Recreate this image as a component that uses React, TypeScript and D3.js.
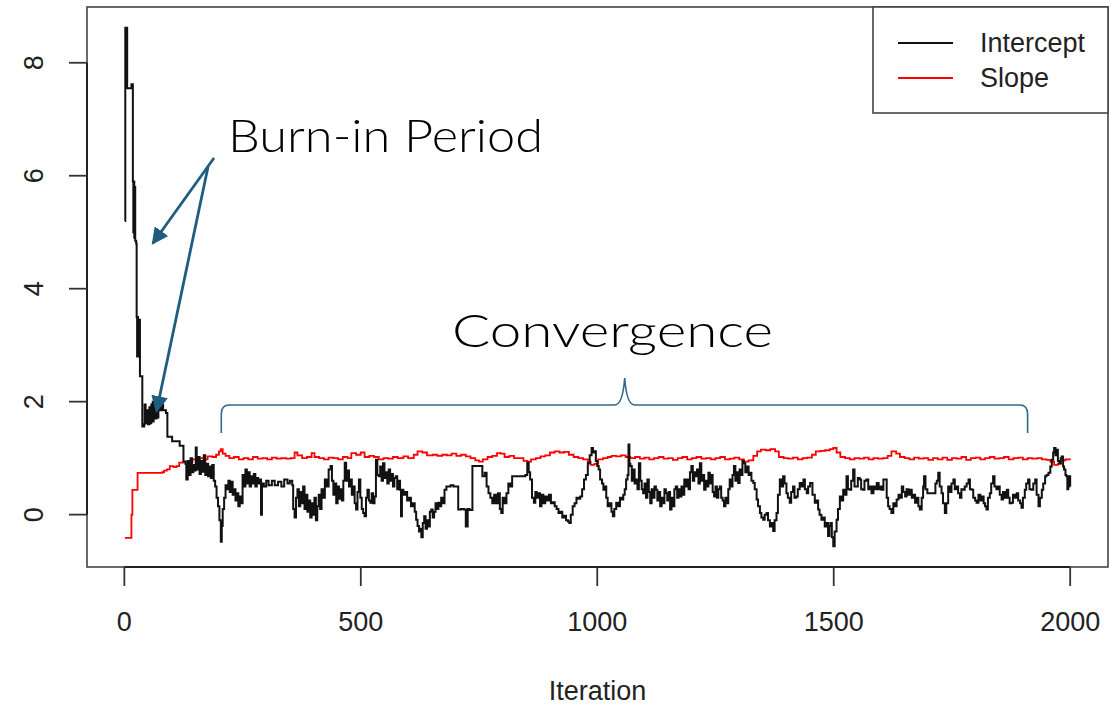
import React from "react";
import * as d3 from "d3";

const seriesNames = ["Intercept", "Slope"];
const seriesColors = ["#111111", "#ff0000"];
const xTicks = [0, 500, 1000, 1500, 2000];
const yTicks = [0, 2, 4, 6, 8];
const xLabel = "Iteration";
const burnInLabel = "Burn-in Period";
const convergenceLabel = "Convergence";

// [iteration, value]
const interceptTrace: [number, number][] = [
  [1,5.2],[2,8.62],[5,8.62],[6,7.55],[14,7.55],[15,7.62],[17,7.62],[18,5.9],[19,5.0],[20,5.9],[21,4.9],[22,5.8],[23,4.85],[25,4.8],[26,3.5],[27,2.8],[28,3.5],[29,2.8],[30,3.4],[31,2.8],[32,3.45],[33,2.45],[37,2.45],[38,1.56],[42,1.6],[43,1.95],[45,1.62],[48,1.85],[50,1.6],[53,1.9],[55,1.62],[57,1.95],[58,1.7],[60,2.0],[61,1.65],[62,1.98],[63,1.7],[64,1.95],[66,1.7],[68,2.0],[70,1.72],[72,1.9],[75,1.85],[78,1.95],[82,1.85],[88,1.8],[91,1.38],[100,1.38],[101,1.3],[116,1.3],[117,1.22],[124,1.22],[125,0.94],[129,0.9],[131,0.62],[134,0.95],[137,0.7],[140,1.0],[143,0.75],[146,0.88],[149,0.78],[151,1.19],[153,0.8],[156,1.02],[159,0.72],[162,0.95],[165,0.76],[168,1.05],[171,0.7],[174,0.9],[177,0.68],[180,0.85],[183,0.65],[186,0.88],[189,0.6],[192,0.5],[195,0.3],[198,0.15],[201,-0.1],[204,-0.48],[206,-0.2],[208,0.1],[211,0.3],
  [214,0.52],[217,0.45],[220,0.6],[223,0.4],[226,0.58],[229,0.35],[232,0.45],[235,0.25],[238,0.38],[241,0.15],[244,0.32],[247,0.2],[250,0.7],[253,0.5],[256,0.8],[259,0.55],[262,0.75],[265,0.5],[268,0.68],[271,0.55],[274,0.72],[277,0.5],[280,0.65],[283,0.55],[286,0.62],[289,0.0],[291,0.55],[295,0.5],[300,0.6],[305,0.52],[312,0.6],[318,0.52],[325,0.58],[332,0.5],[338,0.62],[345,0.55],[350,0.6],[355,0.52],[357,0.1],[360,-0.05],[363,0.3],[366,0.45],[369,0.15],[372,0.4],[375,0.2],[378,0.5],[381,0.1],[384,0.35],[387,0.05],[390,0.25],[393,-0.05],[396,0.2],[399,0.0],[402,0.3],[405,-0.1],[408,0.15],[411,0.35],[414,0.1],[417,0.45],[420,0.3],[424,0.62],[428,0.5],[432,0.8],[436,0.86],[439,0.6],[442,0.35],[445,0.55],[448,0.2],[451,0.5],[454,0.28],[457,0.45],[460,0.25],[463,0.6],[466,0.92],[469,0.6],[472,0.78],[475,0.5],
  [478,0.62],[481,0.35],[484,0.5],[487,0.2],[490,0.09],[493,0.4],[496,0.62],[499,0.3],[502,0.1],[505,0.03],[508,-0.03],[511,0.3],[514,0.44],[517,0.25],[520,0.21],[523,0.38],[526,0.2],[529,0.32],[532,0.97],[535,0.7],[538,0.68],[541,0.85],[544,0.6],[547,0.91],[550,0.65],[553,0.75],[556,0.55],[559,0.8],[562,0.6],[565,0.72],[568,0.5],[571,0.65],[574,0.68],[577,0.45],[580,0.6],[583,0.44],[585,-0.03],[587,0.44],[590,0.35],[594,0.4],[598,0.25],[602,0.3],[606,0.15],[610,0.2],[614,0.05],[617,-0.09],[620,-0.2],[623,-0.3],[626,-0.25],[628,-0.4],[631,-0.15],[634,-0.03],[637,-0.25],[640,-0.1],[643,-0.21],[646,0.05],[649,0.09],[652,-0.05],[655,0.05],[658,0.2],[661,0.1],[664,0.21],[667,0.15],[670,0.3],[674,0.2],[677,0.44],[681,0.5],[685,0.5],[690,0.52],[696,0.5],[702,0.5],[706,0.09],[712,0.1],[718,0.09],[722,-0.21],[726,0.1],[730,0.08],[736,0.86],[745,0.86],[754,0.86],[757,0.68],[762,0.74],[766,0.5],[770,0.38],[774,0.3],[778,0.2],[782,0.35],[786,0.2],[790,0.38],[794,0.1],[797,0.03],[800,0.3],[804,0.2],[808,0.38],[812,0.55],[816,0.5],[820,0.68],[830,0.68],[840,0.68],[848,0.7],[852,0.92],[855,0.75],[858,0.62],[862,0.3],[866,0.21],[869,0.4],[872,0.3],[876,0.38],[879,0.15],[882,0.35],[886,0.2],[890,0.32],[894,0.25],[898,0.35],[902,0.2],[906,0.22],[910,0.15],[914,0.1],[918,0.03],[922,0.05],[926,-0.05],[930,-0.02],[934,-0.1],[938,-0.12],[941,-0.15],[944,0.0],[948,0.15],[952,0.2],[956,0.3],[960,0.28],[964,0.32],[968,0.45],[972,0.62],[976,0.7],[980,0.91],[984,1.05],[988,1.18],[991,1.1],[994,1.12],[997,0.95],[1000,0.86],[1003,0.8],[1006,0.62],[1010,0.55],[1013,0.44],[1016,0.5],[1019,0.3],[1022,0.15],[1026,0.2],[1030,0.05],[1033,-0.03],[1036,0.1],[1040,0.21],[1044,0.15],[1048,0.3],[1051,0.27],[1055,0.35],[1058,0.45],[1061,0.62],[1064,0.7],[1066,1.24],[1068,0.9],[1070,0.86],[1073,0.6],[1076,0.8],[1079,0.55],[1082,0.62],[1085,0.45],[1088,0.91],[1091,0.6],[1094,0.45],[1097,0.38],[1100,0.55],[1103,0.3],[1106,0.62],[1109,0.4],[1112,0.2],[1115,0.45],[1118,0.3],[1121,0.5],[1124,0.44],[1127,0.25],[1130,0.4],[1133,0.15],[1136,0.3],[1139,0.2],[1142,0.45],[1145,0.38],[1148,0.25],[1151,0.4],[1154,0.09],[1157,0.3],[1160,0.15],[1163,0.45],[1166,0.5],[1169,0.3],[1172,0.45],[1175,0.32],[1178,0.5],[1181,0.35],[1184,0.62],[1187,0.5],[1190,0.62],[1193,0.45],[1196,0.75],[1199,0.86],[1202,0.6],[1205,0.75],[1208,0.68],[1211,0.8],[1214,0.55],[1217,0.91],[1220,0.6],[1223,0.7],[1226,0.44],[1229,0.6],[1232,0.5],[1235,0.74],[1238,0.55],[1241,0.7],[1244,0.4],[1247,0.32],[1250,0.5],[1253,0.3],[1256,0.45],[1259,0.5],[1262,0.3],[1265,0.25],[1268,0.15],[1271,0.3],[1274,0.2],[1277,0.45],[1280,0.62],[1283,0.5],[1286,0.7],[1289,0.86],[1292,0.6],[1295,0.75],[1298,0.56],[1301,0.8],[1304,0.7],[1307,0.95],[1310,0.91],[1313,0.75],[1316,0.85],[1320,0.7],[1323,0.74],
  [1326,0.6],[1330,0.56],[1333,0.45],[1337,0.27],[1340,0.15],[1344,0.03],[1347,-0.05],[1351,-0.09],[1354,0.0],[1358,0.03],[1361,-0.1],[1365,-0.21],[1368,-0.15],[1372,-0.29],[1375,-0.1],[1379,0.03],[1382,0.35],[1386,0.62],[1389,0.5],[1393,0.68],[1396,0.55],[1400,0.38],[1403,0.3],[1407,0.21],[1410,0.4],[1414,0.5],[1417,0.3],[1421,0.32],[1424,0.45],[1428,0.56],[1432,0.5],[1436,0.62],[1439,0.45],[1443,0.38],[1446,0.5],[1450,0.56],[1455,0.35],[1460,0.21],[1464,0.25],[1467,0.09],[1470,0.0],[1474,-0.09],[1477,-0.05],[1481,-0.21],[1484,-0.15],[1488,-0.38],[1491,-0.2],[1493,-0.15],[1496,-0.4],[1499,-0.56],[1502,-0.3],[1506,-0.09],[1509,0.1],[1513,0.32],[1516,0.25],[1520,0.44],[1523,0.35],[1527,0.68],[1530,0.45],[1534,0.44],[1537,0.6],[1541,0.8],[1544,0.5],[1548,0.5],[1551,0.65],[1555,0.62],[1558,0.45],[1562,0.44],[1565,0.6],[1569,0.62],[1573,0.45],[1577,0.5],[1580,0.38],[1584,0.5],[1587,0.45],[1591,0.56],[1595,0.45],[1598,0.5],[1601,0.44],[1605,0.62],[1608,0.62],[1612,0.3],[1615,0.15],[1618,0.1],[1622,0.03],[1626,0.2],[1630,0.15],[1633,0.27],[1637,0.35],[1640,0.3],[1644,0.5],[1647,0.4],[1651,0.32],[1654,0.45],[1658,0.35],[1661,0.44],[1665,0.3],[1668,0.35],[1672,0.21],[1676,0.3],[1679,0.15],[1682,0.09],[1686,0.3],[1689,0.5],[1691,0.68],[1694,0.45],[1698,0.38],[1702,0.38],[1706,0.38],[1711,0.38],[1715,0.55],[1718,0.6],[1721,0.74],[1724,0.5],[1728,0.38],[1731,0.2],[1735,0.03],[1738,0.2],[1742,0.5],[1745,0.4],[1749,0.55],[1753,0.62],[1756,0.45],[1760,0.5],[1763,0.38],[1767,0.3],[1770,0.45],[1774,0.44],[1777,0.5],[1781,0.55],[1785,0.62],[1788,0.45],[1792,0.44],[1795,0.3],[1799,0.25],[1802,0.21],[1806,0.35],[1810,0.25],[1813,0.32],[1817,0.2],[1820,0.15],[1823,0.09],[1826,0.3],[1830,0.38],[1833,0.55],[1837,0.68],[1840,0.5],[1844,0.45],[1848,0.5],[1851,0.35],[1855,0.27],[1858,0.4],[1862,0.3],[1866,0.44],[1869,0.3],[1872,0.2],[1876,0.21],[1879,0.35],[1883,0.3],[1887,0.38],[1890,0.25],[1894,0.2],[1897,0.12],[1900,0.3],[1904,0.44],[1907,0.55],[1911,0.62],[1914,0.45],[1918,0.44],[1922,0.55],[1926,0.62],[1929,0.35],[1933,0.15],[1936,0.3],[1940,0.44],[1943,0.55],[1947,0.68],[1950,0.7],[1954,0.74],[1958,0.85],[1961,0.97],[1964,1.1],[1966,1.18],[1969,1.05],[1971,1.15],[1974,0.95],[1977,0.91],[1980,1.0],[1982,1.03],[1985,0.85],[1987,0.8],[1990,0.7],[1992,0.68],[1994,0.45],[1996,0.5],[1998,0.68],[2000,0.5],
];

const slopeTrace: [number, number][] = [
  [1,-0.41],[14,-0.41],[15,0.0],[17,0.44],[27,0.44],[28,0.74],[50,0.74],[80,0.75],[84,0.78],[90,0.8],[96,0.86],[104,0.84],[110,0.86],[116,0.92],[125,0.94],[135,0.93],[144,0.98],[152,0.96],[160,1.0],[168,0.98],[176,1.03],[186,1.02],[194,1.06],[200,1.12],[204,1.16],[208,1.08],[214,1.04],[222,1.0],[232,1.02],[242,0.98],[252,1.0],[262,0.98],[272,1.02],[282,0.99],[292,1.0],[302,0.98],[312,1.01],[322,0.99],[332,1.0],[342,0.99],[352,1.0],[360,1.1],[366,1.05],[376,1.0],[386,1.02],[396,1.09],[402,1.02],[412,1.0],[422,0.98],[432,1.01],[442,1.0],[452,0.98],[462,1.02],[472,1.0],[480,1.09],[490,1.06],[500,1.1],[508,1.02],[518,1.04],[528,1.02],[538,0.98],[548,1.0],[558,0.99],[568,1.02],[578,1.0],[590,1.03],[600,1.0],[612,1.06],[620,1.12],[630,1.1],[640,1.05],[652,1.06],[662,1.04],[672,1.06],[682,1.05],[692,1.08],[702,1.04],[712,1.06],[722,1.03],[732,1.0],[742,0.96],[750,0.94],[758,0.98],[768,1.02],[778,1.04],[788,1.09],[796,1.08],[804,1.02],[814,1.04],[824,1.0],[834,1.0],[844,0.95],[852,0.94],[860,0.98],[870,1.0],[880,1.03],[890,1.05],[900,1.1],[910,1.12],[920,1.1],[930,1.11],[940,1.06],[950,1.02],[960,1.0],[970,0.98],[980,0.94],[986,0.88],[994,0.9],[1002,0.98],[1012,1.0],[1022,1.02],[1030,1.04],[1040,1.03],[1050,1.05],[1060,1.02],[1070,1.0],[1080,1.02],[1090,0.99],[1100,1.01],[1110,0.98],[1120,1.0],[1130,1.02],[1140,0.99],[1150,1.0],[1160,0.97],[1170,1.0],[1180,1.02],[1190,0.98],[1200,1.0],[1210,1.02],[1220,0.99],[1230,1.0],[1240,0.98],[1250,1.0],[1260,1.02],[1270,0.98],[1280,0.99],[1290,1.01],[1300,0.98],[1310,0.94],[1320,0.96],[1330,1.04],[1338,1.12],[1346,1.15],[1356,1.14],[1366,1.16],[1376,1.12],[1384,1.02],[1394,1.0],[1404,0.99],[1414,1.01],[1424,0.98],[1434,1.0],[1444,1.01],[1454,1.06],[1462,1.12],[1472,1.13],[1482,1.14],[1492,1.16],[1499,1.18],[1506,1.1],[1514,1.02],[1524,1.0],[1534,0.98],[1544,1.0],[1554,0.99],[1564,1.01],[1574,0.98],[1584,1.0],[1594,0.99],[1604,1.0],[1614,1.04],[1622,1.12],[1632,1.08],[1640,1.02],[1650,1.0],[1660,0.98],[1670,1.01],[1680,0.99],[1690,1.0],[1700,0.97],[1710,1.0],[1720,0.98],[1730,1.01],[1740,0.97],[1750,1.0],[1760,0.99],[1770,1.02],[1780,0.97],[1790,1.0],[1800,1.01],[1810,0.98],[1820,1.0],[1830,1.02],[1840,0.99],[1850,1.0],[1860,1.02],[1870,0.98],[1880,1.0],[1890,1.01],[1900,0.98],[1910,1.0],[1920,0.99],[1930,1.0],[1940,0.98],[1950,0.97],[1958,0.94],[1966,0.88],[1974,0.9],[1980,0.96],[1990,0.98],[2000,0.97],
];

const W = 1119;
const H = 705;
const box = { left: 87, right: 1108, top: 7, bottom: 567 };

export default function App() {
  const allVals = [...interceptTrace, ...slopeTrace].map((d) => d[1]);
  const yMin = d3.min(allVals)!;
  const yMax = d3.max(allVals)!;
  const yPad = (yMax - yMin) * 0.04;
  const xPad = (2000 - 1) * 0.04;
  const x = d3.scaleLinear().domain([1 - xPad, 2000 + xPad]).range([box.left, box.right]);
  const y = d3.scaleLinear().domain([yMin - yPad, yMax + yPad]).range([box.bottom, box.top]);

  const line = d3
    .line<[number, number]>()
    .x((d) => x(d[0]))
    .y((d) => y(d[1]))
    .curve(d3.curveStepAfter);

  const tickFont = "'Liberation Sans', Arial, sans-serif";
  const annFont = "Lato, 'DejaVu Sans', sans-serif";
  const arrowColor = "#1f5c7e";
  const braceColor = "#2f6a8a";

  const braceY = 405;
  const braceL = x(205);
  const braceR = x(1910);
  const braceM = x(1058);
  const bracePath = `M ${braceL} ${braceY + 28} L ${braceL} ${braceY + 9} Q ${braceL} ${braceY} ${braceL + 8} ${braceY} L ${braceM - 10} ${braceY} Q ${braceM - 2} ${braceY} ${braceM} ${braceY - 27} Q ${braceM + 2} ${braceY} ${braceM + 10} ${braceY} L ${braceR - 8} ${braceY} Q ${braceR} ${braceY} ${braceR} ${braceY + 9} L ${braceR} ${braceY + 28}`;

  const arrowStart1: [number, number] = [214, 158];
  const arrowEnd1: [number, number] = [x(60), y(4.8)];
  const arrowStart2: [number, number] = [208, 167];
  const arrowEnd2: [number, number] = [x(68), y(1.83)];

  return (
    <div style={{ position: "fixed", left: 0, top: 0, width: W, height: H, background: "#fff" }}>
      <svg width={W} height={H} style={{ display: "block" }}>
        <defs>
          <marker id="ah" viewBox="0 0 10 10" refX="9" refY="5" markerWidth="6" markerHeight="6" orient="auto" markerUnits="strokeWidth">
            <path d="M0,0 L10,5 L0,10 z" fill={arrowColor} />
          </marker>
        </defs>
        <rect x={0} y={0} width={W} height={H} fill="#fff" />

        {/* traces */}
        <g>
          <path d={line(slopeTrace) || ""} fill="none" stroke={seriesColors[1]} strokeWidth={1.8} />
          <path d={line(interceptTrace) || ""} fill="none" stroke={seriesColors[0]} strokeWidth={2} strokeLinejoin="miter" />
        </g>

        {/* box */}
        <rect x={box.left} y={box.top} width={box.right - box.left} height={box.bottom - box.top} fill="none" stroke="#444" strokeWidth={1.6} />

        {/* y axis */}
        <line x1={box.left} x2={box.left} y1={y(yTicks[0])} y2={y(yTicks[yTicks.length - 1])} stroke="#222" strokeWidth={2} />
        {yTicks.map((t) => (
          <g key={"y" + t}>
            <line x1={box.left - 18} x2={box.left} y1={y(t)} y2={y(t)} stroke="#333" strokeWidth={1.8} />
            <text transform={`translate(${box.left - 53},${y(t)}) rotate(-90)`} textAnchor="middle" dominantBaseline="central" fontFamily={tickFont} fontSize={27} fill="#222">
              {t}
            </text>
          </g>
        ))}

        {/* x axis */}
        <line x1={x(xTicks[0])} x2={x(xTicks[xTicks.length - 1])} y1={box.bottom} y2={box.bottom} stroke="#222" strokeWidth={2} />
        {xTicks.map((t) => (
          <g key={"x" + t}>
            <line x1={x(t)} x2={x(t)} y1={box.bottom} y2={box.bottom + 19} stroke="#333" strokeWidth={1.8} />
            <text x={x(t)} y={622} textAnchor="middle" dominantBaseline="central" fontFamily={tickFont} fontSize={27} fill="#222">
              {t}
            </text>
          </g>
        ))}
        <text x={(box.left + box.right) / 2} y={691} textAnchor="middle" dominantBaseline="central" fontFamily={tickFont} fontSize={27} fill="#222">
          {xLabel}
        </text>

        {/* legend */}
        <rect x={873} y={box.top} width={box.right - 873} height={106} fill="#fff" stroke="#444" strokeWidth={1.6} />
        {seriesNames.map((name, i) => (
          <g key={name}>
            <line x1={898} x2={953} y1={43 + i * 35} y2={43 + i * 35} stroke={seriesColors[i]} strokeWidth={2} />
            <text x={980} y={43 + i * 35} dominantBaseline="central" fontFamily={tickFont} fontSize={27} fill="#222">
              {name}
            </text>
          </g>
        ))}

        {/* annotations */}
        <text x={228} y={152} fontFamily={annFont} fontWeight={300} fontSize={46} fill="#000" textLength={315} lengthAdjust="spacingAndGlyphs">
          {burnInLabel}
        </text>
        <text x={452} y={347} fontFamily={annFont} fontWeight={300} fontSize={46} fill="#000" textLength={321} lengthAdjust="spacingAndGlyphs">
          {convergenceLabel}
        </text>
        <line x1={arrowStart1[0]} y1={arrowStart1[1]} x2={arrowEnd1[0]} y2={arrowEnd1[1]} stroke={arrowColor} strokeWidth={2.8} markerEnd="url(#ah)" />
        <line x1={arrowStart2[0]} y1={arrowStart2[1]} x2={arrowEnd2[0]} y2={arrowEnd2[1]} stroke={arrowColor} strokeWidth={2.8} markerEnd="url(#ah)" />
        <path d={bracePath} fill="none" stroke={braceColor} strokeWidth={1.6} />
      </svg>
    </div>
  );
}
